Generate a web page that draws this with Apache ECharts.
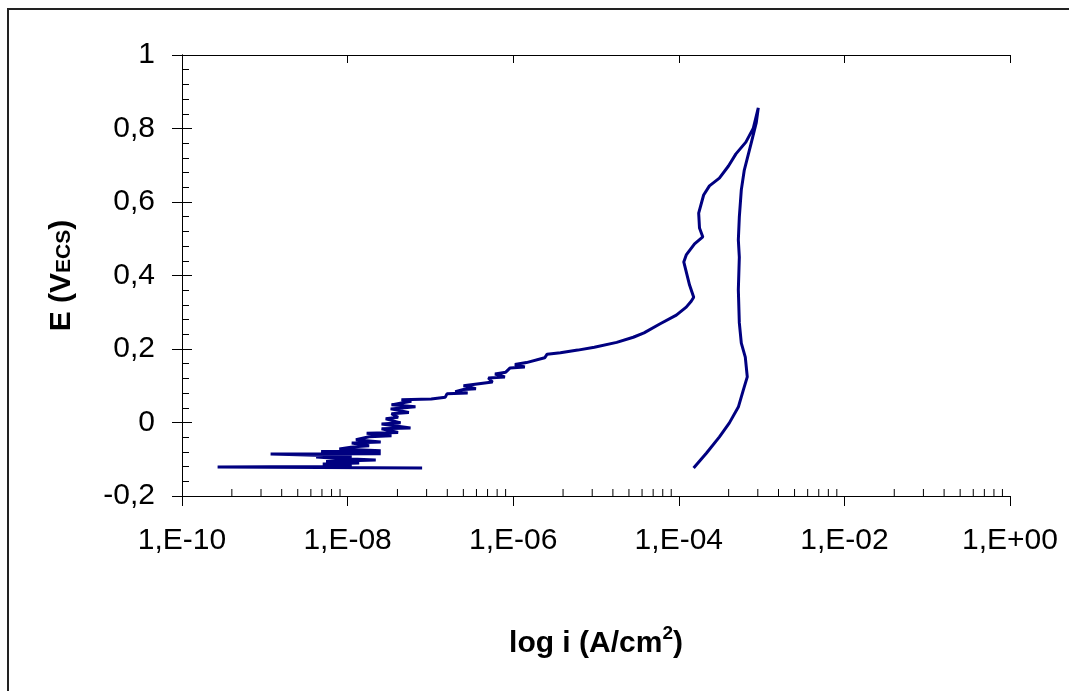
<!DOCTYPE html>
<html>
<head>
<meta charset="utf-8">
<script src="https://cdn.jsdelivr.net/npm/echarts@6/dist/echarts.min.js"></script>
<style>
  html, body { margin: 0; padding: 0; background: #fff; }
  #chart { width: 1069px; height: 691px; }
</style>
</head>
<body>
<div id="chart"></div>
<script>
// courbe de polarisation : log i (A/cm2) vs E (V/ECS)
// aller (balayage anodique)
var allerLogI = [-7.10, -9.57, -8.28, -7.95, -8.30, -7.86, -8.26, -7.66, -8.10, -8.38,
  -7.95, -8.93, -7.60, -8.32, -7.60, -8.10, -7.96, -7.74, -7.95, -7.60,
  -7.90, -7.74, -7.47, -7.77, -7.39, -7.59, -7.24, -7.59, -7.36, -7.54,
  -7.39, -7.47, -7.26, -7.48, -7.18, -7.47, -7.35, -7.23, -7.35, -6.99,
  -6.82, -6.80, -6.55, -6.70, -6.60, -6.45, -6.60, -6.25, -6.30, -6.10,
  -6.22, -6.09, -6.04, -5.86, -5.98, -5.84, -5.62, -5.59, -5.43, -5.22,
  -5.02, -4.75, -4.55, -4.42, -4.23, -4.03, -3.91, -3.85, -3.82, -3.87,
  -3.91, -3.94, -3.91, -3.81, -3.71, -3.75, -3.76, -3.70, -3.63, -3.51,
  -3.40, -3.31, -3.19, -3.10, -3.04];
var allerE = [-0.124, -0.121, -0.120, -0.118, -0.113, -0.110, -0.106, -0.102, -0.098, -0.094,
  -0.092, -0.086, -0.085, -0.079, -0.077, -0.072, -0.067, -0.063, -0.056, -0.053,
  -0.047, -0.039, -0.036, -0.029, -0.027, -0.017, -0.015, -0.004, -0.001, 0.010,
  0.014, 0.024, 0.027, 0.037, 0.043, 0.048, 0.053, 0.058, 0.062, 0.064,
  0.069, 0.078, 0.080, 0.084, 0.090, 0.092, 0.100, 0.110, 0.121, 0.124,
  0.132, 0.137, 0.148, 0.151, 0.158, 0.163, 0.176, 0.186, 0.190, 0.197,
  0.205, 0.218, 0.232, 0.244, 0.268, 0.292, 0.314, 0.330, 0.341, 0.374,
  0.410, 0.437, 0.456, 0.486, 0.505, 0.529, 0.570, 0.619, 0.644, 0.665,
  0.698, 0.731, 0.763, 0.801, 0.856];
// retour
var retourLogI = [-3.065, -3.125, -3.209, -3.245, -3.269, -3.281, -3.269, -3.281, -3.269, -3.245,
  -3.197, -3.173, -3.221, -3.281, -3.389, -3.509, -3.665, -3.821];
var retourE = [0.815, 0.761, 0.687, 0.633, 0.559, 0.497, 0.450, 0.361, 0.271, 0.216,
  0.178, 0.124, 0.088, 0.042, -0.001, -0.039, -0.083, -0.124];

var decadesX = [-10, -8, -6, -4, -2];       // graduations principales (pas 100)
var minorFactors = [2, 3, 4, 5, 6, 7, 8, 9]; // graduations secondaires type Excel

var data = [];
for (var i = 0; i < allerLogI.length; i++) data.push([allerLogI[i], allerE[i]]);
for (var j = 0; j < retourLogI.length; j++) data.push([retourLogI[j], retourE[j]]);

var minorTicks = [];
decadesX.forEach(function (d) {
  minorFactors.forEach(function (k) { minorTicks.push([d + 2 * Math.log10(k), -0.2]); });
});

var font = 'Arial, "Liberation Sans", sans-serif';
var chart = echarts.init(document.getElementById('chart'));

var xBase = {
  type: 'value', min: -10, max: 0, interval: 2,
  axisLine: { onZero: false, lineStyle: { color: '#000', width: 1 } },
  splitLine: { show: false }
};
var yBase = {
  type: 'value', min: -0.2, max: 1, interval: 0.2,
  axisLine: { show: true, onZero: false, lineStyle: { color: '#000', width: 1 } },
  splitLine: { show: false }
};

chart.setOption({
  animation: false,
  backgroundColor: '#fff',
  grid: { left: 182, right: 59, top: 55, bottom: 195 },
  graphic: [{
    type: 'rect', shape: { x: 8, y: 9, width: 1100, height: 720 },
    style: { fill: 'none', stroke: '#222', lineWidth: 2 }, silent: true
  }],
  xAxis: [
    Object.assign({}, xBase, {
      axisTick: { show: true, inside: false, length: 10, lineStyle: { color: '#000' } },
      axisLabel: {
        margin: 30, fontSize: 30, color: '#000', fontFamily: font,
        formatter: function (v) {
          var n = Math.round(Math.abs(v));
          return '1,E' + (v < 0 ? '-' : '+') + (n < 10 ? '0' + n : n);
        }
      },
      name: '{a|log i (A/cm}{s|2}{a|)}',
      nameLocation: 'middle', nameGap: 128,
      nameTextStyle: {
        rich: {
          a: { fontSize: 30, fontWeight: 'bold', color: '#000', fontFamily: font, lineHeight: 40 },
          s: { fontSize: 19, fontWeight: 'bold', color: '#000', fontFamily: font, lineHeight: 20, verticalAlign: 'top' }
        }
      }
    }),
    Object.assign({}, xBase, {
      axisTick: { show: true, inside: true, length: 8, lineStyle: { color: '#000' } },
      axisLabel: { show: false }
    })
  ],
  yAxis: [
    Object.assign({}, yBase, {
      axisTick: { show: true, inside: false, length: 10, lineStyle: { color: '#000' } },
      axisLabel: {
        margin: 27, fontSize: 30, color: '#000', fontFamily: font,
        formatter: function (v) { return String(+v.toFixed(1)).replace('.', ','); }
      },
      name: '{a|E (V}{s|ECS}{a|)}',
      nameLocation: 'middle', nameRotate: 90, nameGap: 100,
      nameTextStyle: {
        rich: {
          a: { fontSize: 30, fontWeight: 'bold', color: '#000', fontFamily: font, lineHeight: 40 },
          s: { fontSize: 21, fontWeight: 'bold', color: '#000', fontFamily: font, lineHeight: 40, verticalAlign: 'middle', padding: [4, 0, 0, 0] }
        }
      }
    }),
    Object.assign({}, yBase, {
      position: 'left',
      axisTick: { show: true, inside: true, length: 10, lineStyle: { color: '#000' } },
      minorTick: { show: true, splitNumber: 5, length: 7, lineStyle: { color: '#000' } },
      axisLabel: { show: false }
    })
  ],
  series: [
    {
      type: 'line', data: data, showSymbol: false, symbol: 'none',
      lineStyle: { color: '#000080', width: 3 }, z: 5
    },
    {
      type: 'custom', data: minorTicks, silent: true, clip: false, z: 3,
      renderItem: function (params, api) {
        var p = api.coord([api.value(0), api.value(1)]);
        return {
          type: 'line',
          shape: { x1: p[0], y1: p[1], x2: p[0], y2: p[1] - 7 },
          style: { stroke: '#000', lineWidth: 1 }
        };
      }
    }
  ]
});
</script>
</body>
</html>
